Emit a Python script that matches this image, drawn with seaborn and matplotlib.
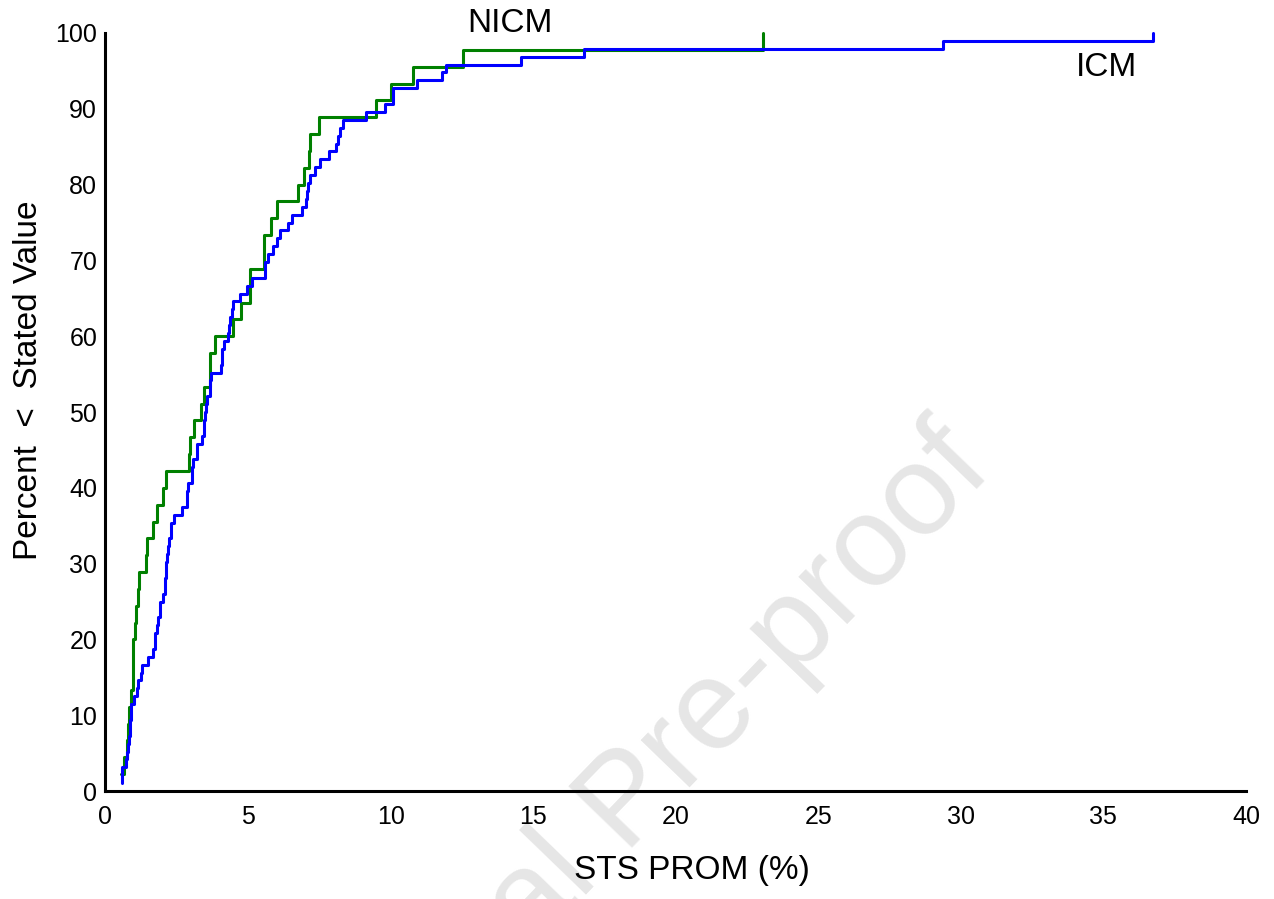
import numpy as np
import pandas as pd
import matplotlib
matplotlib.use("Agg")
import matplotlib.pyplot as plt
import seaborn as sns

# STS PROM (%) values, sorted (one value per patient)
nicm_values = [0.54, 0.65, 0.76, 0.78, 0.81, 0.90, 0.96, 0.96, 0.97, 1.02,
               1.07, 1.15, 1.16, 1.41, 1.45, 1.65, 1.79, 2.00, 2.11, 2.94,
               2.95, 3.11, 3.35, 3.45, 3.66, 3.67, 3.84, 4.48, 4.77, 5.07,
               5.08, 5.55, 5.57, 5.79, 6.00, 6.76, 6.96, 7.15, 7.16, 7.50,
               9.48, 10.03, 10.77, 12.55, 23.05]

icm_values = [0.58, 0.58, 0.59, 0.73, 0.74, 0.80, 0.81, 0.85, 0.86, 0.90,
              0.91, 1.00, 1.12, 1.13, 1.25, 1.27, 1.49, 1.65, 1.72, 1.75,
              1.80, 1.85, 1.91, 1.92, 2.00, 2.09, 2.10, 2.11, 2.12, 2.15,
              2.18, 2.24, 2.29, 2.31, 2.40, 2.67, 2.85, 2.86, 2.88, 3.02,
              3.03, 3.08, 3.20, 3.22, 3.37, 3.45, 3.47, 3.50, 3.52, 3.57,
              3.66, 3.67, 3.69, 4.04, 4.07, 4.09, 4.15, 4.31, 4.33, 4.38,
              4.42, 4.48, 4.72, 4.97, 5.13, 5.59, 5.60, 5.71, 5.86, 6.02,
              6.12, 6.41, 6.53, 6.88, 7.05, 7.07, 7.10, 7.17, 7.35, 7.52,
              7.85, 8.08, 8.16, 8.22, 8.32, 9.13, 9.80, 10.09, 10.10, 10.91,
              11.79, 11.96, 14.59, 16.80, 29.37, 36.73]

groups = ["NICM", "ICM"]
colors = {"NICM": "#008000", "ICM": "#0000FF"}
x_ticks = [0, 5, 10, 15, 20, 25, 30, 35, 40]
y_ticks = [0, 10, 20, 30, 40, 50, 60, 70, 80, 90, 100]
x_label = "STS PROM (%)"
y_label = "Percent  <  Stated Value"
watermark = "Journal Pre-proof"

frames = []
for name, vals in [("NICM", nicm_values), ("ICM", icm_values)]:
    v = np.sort(np.asarray(vals, dtype=float))
    n = len(v)
    pct = np.arange(1, n + 1) / n * 100.0
    frames.append(pd.DataFrame({"prom": v, "pct": pct, "group": name}))
df = pd.concat(frames, ignore_index=True)

sns.set_theme(style="white")
plt.rcParams["font.family"] = ["Liberation Sans", "DejaVu Sans"]

fig = plt.figure(figsize=(12.74, 8.99), dpi=100)
ax = fig.add_axes([0.0828, 0.1201, 0.8952, 0.8432])

sns.lineplot(data=df, x="prom", y="pct", hue="group", hue_order=groups,
             palette=colors, estimator=None, sort=False, units="group",
             drawstyle="steps-post", linewidth=2.2, legend=False, ax=ax)
for ln in ax.get_lines():
    ln.set_clip_on(False)

ax.set_xlim(0, 40)
ax.set_ylim(0, 100)
ax.set_xticks(x_ticks)
ax.set_yticks(y_ticks)
ax.tick_params(axis="both", direction="in", length=12.5, width=2.2,
               colors="black", labelsize=18, labelcolor="black")
ax.tick_params(axis="x", pad=10)
ax.tick_params(axis="y", pad=6)
for side in ["top", "right"]:
    ax.spines[side].set_visible(False)
for side in ["left", "bottom"]:
    ax.spines[side].set_color("black")
    ax.spines[side].set_linewidth(2.2)

ax.set_xlabel(x_label, fontsize=24, color="black")
ax.set_ylabel(y_label, fontsize=24, color="black")
ax.xaxis.set_label_coords(0.514, -0.085)
ax.yaxis.set_label_coords(-0.054, 0.542)

ax.text(14.2, 101.2, "NICM", fontsize=24, ha="center", va="center",
        color="black", clip_on=False)
ax.text(35.1, 95.5, "ICM", fontsize=24, ha="center", va="center",
        color="black", clip_on=False)

ax.text(0.493, 0.106, watermark, transform=fig.transFigure, fontsize=92,
        color="#e6e6e6", rotation=46, rotation_mode="anchor",
        ha="center", va="center", zorder=0, clip_on=False)

fig.savefig("out.png", dpi=100, facecolor="white")
